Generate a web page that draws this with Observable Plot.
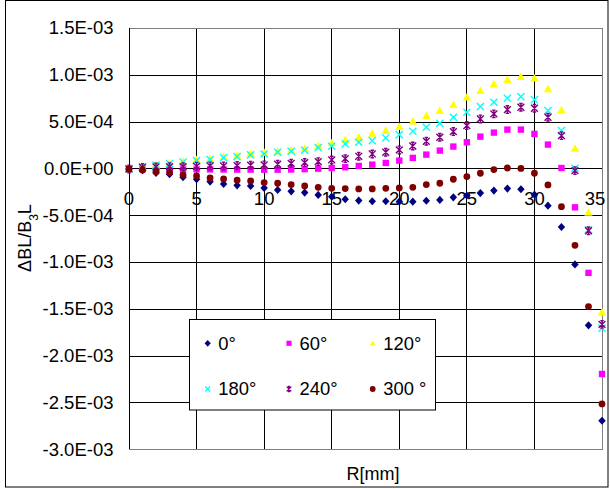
<!DOCTYPE html>
<html><head><meta charset="utf-8">
<script src="https://cdn.jsdelivr.net/npm/d3@7"></script>
<script src="https://cdn.jsdelivr.net/npm/@observablehq/plot@0.6"></script>
<style>
body{margin:0;background:#fff;}
#chart{position:relative;width:610px;height:489px;}
</style></head><body><div id="chart"></div>
<script>
// Radius R [mm]
const R = [0,1,2,3,4,5,6,7,8,9,10,11,12,13,14,15,16,17,18,19,20,21,22,23,24,25,26,27,28,29,30,31,32,33,34,35];
// Values in units of 1E-04
const UNIT = 1e-4;
const s0   = [0,-0.14,-0.43,-0.57,-0.89,-1.1,-1.35,-1.6,-1.75,-1.82,-2.03,-2.24,-2.39,-2.53,-2.78,-2.96,-3.24,-3.38,-3.45,-3.45,-3.5,-3.5,-3.4,-3.31,-3.03,-2.84,-2.58,-2.31,-2.1,-2.17,-2.75,-3.92,-6.2,-10.2,-16.7,-26.9];
const s60  = [0,-0.02,-0.03,-0.04,-0.05,-0.05,-0.05,-0.06,-0.07,-0.07,-0.08,-0.08,-0.06,-0.02,0.03,0.1,0.18,0.32,0.46,0.64,0.89,1.18,1.53,1.96,2.39,2.85,3.45,3.88,4.2,4.2,3.74,2.6,0.1,-4.1,-11.1,-21.9];
const s120 = [0,0.27,0.45,0.63,0.8,1.0,1.1,1.3,1.45,1.62,1.75,1.9,2.0,2.2,2.46,2.78,3.1,3.38,3.8,4.1,4.52,5.1,5.7,6.23,6.87,7.66,8.37,9.08,9.54,9.86,9.69,8.55,6.3,2.2,-4.65,-15.3];
const s180 = [0,0.22,0.4,0.58,0.72,0.9,1.0,1.2,1.32,1.5,1.6,1.78,1.89,2.0,2.28,2.42,2.67,2.85,3.03,3.31,3.67,4.02,4.45,4.88,5.52,6.05,6.66,7.12,7.55,7.73,7.4,6.23,4.1,0.07,-6.5,-17.0];
const s240 = [0,0.15,0.22,0.25,0.25,0.28,0.32,0.32,0.36,0.39,0.43,0.5,0.6,0.68,0.78,0.96,1.1,1.35,1.6,1.78,2.03,2.45,2.96,3.38,3.99,4.63,5.34,5.88,6.34,6.59,6.48,5.52,3.56,-0.18,-6.6,-16.6];
const s300 = [0,-0.11,-0.29,-0.39,-0.64,-0.75,-0.96,-1.07,-1.21,-1.28,-1.46,-1.53,-1.67,-1.82,-1.96,-2.07,-2.1,-2.14,-2.14,-2.07,-2.03,-1.96,-1.67,-1.53,-1.1,-0.82,-0.46,-0.07,0.1,0.05,-0.46,-1.71,-4.03,-8.16,-14.7,-25.1];

const seriesNames = ["0°","60°","120°","180°","240°","300 °"];
const seriesColors = ["#000080","#FF00FF","#FFFF00","#00FFFF","#800080","#800000"];
const seriesValues = [s0,s60,s120,s180,s240,s300];

const xTicks = [0,5,10,15,20,25,30,35];
const yTicks = [-3e-3,-2.5e-3,-2e-3,-1.5e-3,-1e-3,-5e-4,0,5e-4,1e-3,1.5e-3];

const fmt = v => {
  const [m, e] = v.toExponential(1).split("e");
  const n = Math.abs(+e);
  return `${m}E${+e < 0 ? "-" : "+"}${String(n).padStart(2,"0")}`;
};

// custom symbols (Excel-like markers)
const diamondSym = {draw(ctx, size) { const h = Math.sqrt(size) * 0.6; ctx.moveTo(0,-h*1.1); ctx.lineTo(h,0); ctx.lineTo(0,h*1.1); ctx.lineTo(-h,0); ctx.closePath(); }};
const timesSym = {draw(ctx, size) { const h = Math.sqrt(size) * 0.48; ctx.moveTo(-h,-h); ctx.lineTo(h,h); ctx.moveTo(-h,h); ctx.lineTo(h,-h); }};
const starSym = {draw(ctx, size) { const h = Math.sqrt(size) * 0.46; ctx.moveTo(-h,-h); ctx.lineTo(h,h); ctx.moveTo(-h,h); ctx.lineTo(h,-h); ctx.moveTo(0,-h*1.1); ctx.lineTo(0,h*1.1); ctx.moveTo(-h*0.5,-h*1.1); ctx.lineTo(h*0.5,-h*1.1); ctx.moveTo(-h*0.5,h*1.1); ctx.lineTo(h*0.5,h*1.1); }};
const triSym = {draw(ctx, size) { const h = Math.sqrt(size) * 0.55; ctx.moveTo(0,-h); ctx.lineTo(h*1.0,h*0.8); ctx.lineTo(-h*1.0,h*0.8); ctx.closePath(); }};
const squareSym = {draw(ctx, size) { const h = Math.sqrt(size) * 0.5; ctx.rect(-h,-h,2*h,2*h); }};
const seriesSymbols = [diamondSym, squareSym, triSym, timesSym, starSym, d3.symbolCircle];
const seriesStroked = [false, false, false, true, true, false];
const seriesR = [3.5, 3.6, 4.3, 4.2, 4.2, 3.4];

const rows = [];
seriesValues.forEach((vals, i) => vals.forEach((v, j) => rows.push({R: R[j], v: v * UNIT, s: i})));

const dotMarks = seriesNames.map((name, i) => {
  const sym = seriesSymbols[i];
  const data = rows.filter(d => d.s === i);
  const r = seriesR[i];
  return seriesStroked[i]
    ? Plot.dot(data, {x: "R", y: "v", symbol: () => sym, stroke: seriesColors[i], strokeWidth: 1.4, fill: "none", r})
    : Plot.dot(data, {x: "R", y: "v", symbol: () => sym, fill: seriesColors[i], stroke: "none", r});
});

const FONT = "'Liberation Sans', Arial, sans-serif";

const plot = Plot.plot({
  width: 610, height: 489,
  marginLeft: 128.5, marginRight: 8.5, marginTop: 28, marginBottom: 39.7,
  style: {fontFamily: FONT, background: "#fff", overflow: "visible", color: "#000"},
  x: {domain: [0, 35], axis: null},
  y: {domain: [-3e-3, 1.5e-3], axis: null},
  symbol: {type: "identity"},
  marks: [
    Plot.ruleY(yTicks.slice(1, -1), {stroke: "#000", strokeWidth: 1, shapeRendering: "crispEdges"}),
    Plot.ruleX(xTicks.slice(1, -1), {stroke: "#000", strokeWidth: 1, shapeRendering: "crispEdges"}),
    Plot.frame({stroke: "#808080", shapeRendering: "crispEdges"}),
    Plot.ruleX([0], {stroke: "#000", shapeRendering: "crispEdges"}),
    Plot.ruleY([0], {stroke: "#000", shapeRendering: "crispEdges"}),
    Plot.axisY({ticks: yTicks, tickFormat: fmt, tickSize: 0, tickPadding: 15.5, fontSize: 18.5, label: null}),
    Plot.text(xTicks.slice(0, -1), {x: d => d, y: () => 0, text: d => String(d), dy: 30, fontSize: 18.5, fill: "#000"}),
    Plot.text(xTicks.slice(-1), {x: d => d, y: () => 0, text: d => String(d), dx: -7, dy: 30, fontSize: 18.5, fill: "#000"}),
    ...dotMarks
  ]
});

document.getElementById("chart").appendChild(plot);
const svg = d3.select(plot);

// outer border
svg.append("rect").attr("x", 5.5).attr("y", 0.5).attr("width", 602.5).attr("height", 486.5)
  .attr("fill", "none").attr("stroke", "#000").attr("stroke-width", 1);

// axis titles
const yt = svg.append("text").attr("transform", "translate(31,238) rotate(-90)")
  .attr("text-anchor", "middle").attr("font-size", 18).attr("font-family", FONT).attr("fill", "#000");
yt.append("tspan").text("ΔBL/B");
yt.append("tspan").attr("baseline-shift", "sub").attr("font-size", 12).text("3");
yt.append("tspan").text("L");
svg.append("text").attr("x", 373).attr("y", 480).attr("text-anchor", "middle")
  .attr("font-size", 18).attr("font-family", FONT).attr("fill", "#000").text("R[mm]");

// legend
const lg = svg.append("g");
lg.append("rect").attr("x", 189.5).attr("y", 319.5).attr("width", 246).attr("height", 90.5)
  .attr("fill", "#fff").attr("stroke", "#000").attr("stroke-width", 1);
const colM = [207.7, 289, 372.7], rowY = [343.3, 389];
seriesNames.forEach((name, i) => {
  const cx = colM[i % 3], cy = rowY[Math.floor(i / 3)];
  const path = lg.append("path").attr("transform", `translate(${cx},${cy})`)
    .attr("d", d3.symbol(seriesSymbols[i], Math.PI * 2.9 * 2.9)());
  if (seriesStroked[i]) path.attr("fill", "none").attr("stroke", seriesColors[i]).attr("stroke-width", 1.3);
  else path.attr("fill", seriesColors[i]);
  lg.append("text").attr("x", cx + 10.6).attr("y", cy).attr("dy", "0.35em")
    .attr("text-anchor", "start")
    .attr("font-size", 18.4).attr("font-family", FONT).attr("fill", "#000").text(name);
});
</script>
</body></html>
